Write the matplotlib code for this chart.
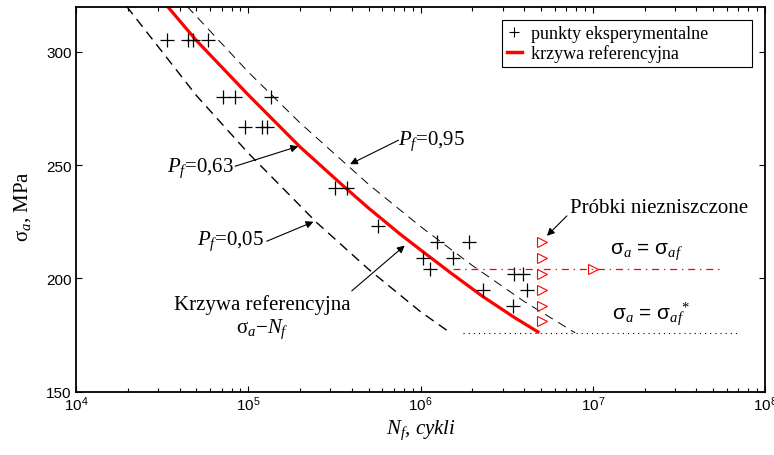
import matplotlib
matplotlib.use('Agg')
import matplotlib.pyplot as plt
from matplotlib.lines import Line2D
from matplotlib.patches import Rectangle
from matplotlib.ticker import LogLocator, FixedLocator, NullLocator

plt.rcParams['font.family'] = ['Liberation Sans', 'DejaVu Sans']
plt.rcParams['mathtext.fontset'] = 'custom'
plt.rcParams['mathtext.rm'] = 'Liberation Serif'
plt.rcParams['mathtext.it'] = 'Liberation Serif:italic'
plt.rcParams['mathtext.bf'] = 'Liberation Serif:bold'
plt.rcParams['lines.scale_dashes'] = False

SERIF = ['Liberation Serif', 'DejaVu Serif']

# ---------------- data ----------------
exp_N = [3.37e4, 4.44e4, 4.77e4, 5.80e4,
         7.16e4, 8.38e4, 1.355e5,
         9.57e4, 1.197e5, 1.28e5,
         3.19e5, 3.73e5,
         5.69e5,
         1.245e6, 1.91e6,
         1.03e6, 1.55e6,
         1.13e6,
         3.51e6, 3.96e6,
         2.32e6, 4.14e6,
         3.46e6]
exp_S = [305, 305, 305, 305,
         280, 280, 280,
         267, 267, 267,
         240, 240,
         223,
         216, 216,
         209, 209,
         204,
         202, 202,
         195, 195,
         188]

ref_N = [3.4e4, 5e4, 1e5, 2e5, 3.6e5, 5e5, 7.6e5, 1e6, 1.5e6, 2.3e6, 3.5e6, 4.9e6]
ref_S = [320, 305, 281, 258, 240.5, 231, 219.6, 212.6, 202.4, 192, 182.8, 176]

p05_N = [1.97e4, 5e4, 1e5, 2.5e5, 5e5, 1e6, 1.49e6]
p05_S = [320, 280.7, 255.3, 224.6, 204.0, 185.3, 176]

p95_N = [4.42e4, 1e5, 2e5, 5e5, 1e6, 2e6, 4e6, 7.9e6]
p95_S = [320, 291.1, 268.6, 241.5, 222.9, 205.7, 189.8, 176]

runout_N = [5.05e6, 5.05e6, 5.05e6, 5.05e6, 5.05e6, 5.05e6]
runout_S = [216, 209, 202, 195, 188, 181]

saf_N = [1.55e6, 5.7e7]
saf_S = [204, 204]
saf_marker_N = [1.0e7]
saf_marker_S = [204]

safstar_N = [1.77e6, 7.0e7]
safstar_S = [176, 176]

x_lim = (1e4, 1e8)
y_lim = (150, 320)
y_ticks = [150, 200, 250, 300]

legend_labels = ['punkty eksperymentalne', 'krzywa referencyjna']

# ---------------- figure ----------------
fig = plt.figure(figsize=(7.74, 4.56), dpi=100)
ax = fig.add_axes([76/774, 1 - 392.7/456, 689/774, 385.2/456])

ax.plot(p05_N, p05_S, color='k', lw=1.0, dashes=(7, 4.5))
ax.plot(p95_N, p95_S, color='k', lw=0.7, dashes=(6.5, 4.5))
ax.plot(ref_N, ref_S, color='red', lw=2.3, solid_capstyle='butt')
ax.plot(exp_N, exp_S, ls='none', marker='+', ms=10, mew=0.9, color='k')
ax.plot(saf_N, saf_S, color='red', lw=0.9, ls=(0, (5, 3.5, 1, 3.5)))
ax.plot(saf_marker_N, saf_marker_S, ls='none', marker='>', ms=7, mfc='none', mec='red', mew=0.8)
ax.plot(runout_N, runout_S, ls='none', marker='>', ms=7, mfc='none', mec='red', mew=0.8)
ax.plot(safstar_N, safstar_S, color='k', lw=0.8, ls=(0, (0.8, 2.9)))

ax.set_xscale('log')
ax.set_xlim(*x_lim)
ax.set_ylim(*y_lim)
ax.yaxis.set_major_locator(FixedLocator(y_ticks))
ax.yaxis.set_minor_locator(NullLocator())
ax.xaxis.set_major_locator(LogLocator(base=10, numticks=10))
ax.xaxis.set_minor_locator(LogLocator(base=10, subs=range(2, 10), numticks=100))

for s in ax.spines.values():
    s.set_linewidth(1.3)
ax.tick_params(which='both', direction='in', top=True, right=True, width=0.8)
ax.tick_params(which='major', length=4.5, labelsize=11, pad=3)
ax.tick_params(which='minor', length=3)
ax.tick_params(axis='x', which='major', pad=2)

ax.set_ylabel('σ$_a$, MPa', family=SERIF, fontsize=15)
ax.yaxis.set_label_coords(-0.063, 0.482)
ax.set_xlabel('$N_f$, cykli', family=SERIF, fontsize=15, style='italic')
ax.xaxis.set_label_coords(0.5, -0.068)

# annotations
arrow_kw = dict(arrowstyle='-|>', color='k', lw=0.8, mutation_scale=11,
                shrinkA=0, shrinkB=0)
ax.text(3.37e4, 247.4, '$P_f$=0,63', family=SERIF, fontsize=15, ha='left', va='baseline')
ax.annotate('', xy=(1.95e5, 258.3), xytext=(8.38e4, 249.5), arrowprops=arrow_kw)

ax.text(7.45e5, 259.2, '$P_f$=0,95', family=SERIF, fontsize=15, ha='left', va='baseline')
ax.annotate('', xy=(3.90e5, 250.4), xytext=(7.45e5, 261.0), arrowprops=arrow_kw)

ax.text(5.02e4, 215.1, '$P_f$=0,05', family=SERIF, fontsize=15, ha='left', va='baseline')
ax.annotate('', xy=(2.39e5, 225.0), xytext=(1.28e5, 216.4), arrowprops=arrow_kw)

ax.text(1.21e5, 186.5, 'Krzywa referencyjna', family=SERIF, fontsize=15, ha='center', va='baseline')
ax.text(1.21e5, 176.3, 'σ$_a$−$N_f$', family=SERIF, fontsize=15, ha='center', va='baseline')
ax.annotate('', xy=(8.1e5, 214.5), xytext=(3.99e5, 194.5), arrowprops=arrow_kw)

ax.text(7.33e6, 229.1, 'Próbki niezniszczone', family=SERIF, fontsize=15, ha='left', va='baseline')
ax.annotate('', xy=(5.42e6, 218.8), xytext=(7.08e6, 227.6), arrowprops=arrow_kw)

ax.text(1.26e7, 211.4, 'σ$_a$ = σ$_{af}$', fontsize=15, ha='left', va='baseline')
ax.text(1.29e7, 182.8, 'σ$_a$ = σ$_{af}$$^{*}$', fontsize=15, ha='left', va='baseline')

# legend (box drawn separately to match the wide reference frame)
leg_x0, leg_x1, leg_y0, leg_y1 = 0.6179, 0.9816, 0.8422, 0.9657
ax.add_patch(Rectangle((leg_x0, leg_y0), leg_x1 - leg_x0, leg_y1 - leg_y0,
                       transform=ax.transAxes, facecolor='white', edgecolor='k',
                       lw=0.8, zorder=4))
handles = [Line2D([], [], ls='none', marker='+', ms=7, mew=0.8, color='k'),
           Line2D([], [], color='red', lw=2.5)]
leg = ax.legend(handles, legend_labels, loc='upper left', bbox_to_anchor=(leg_x0, leg_y1),
                prop={'family': SERIF, 'size': 13}, frameon=False,
                borderpad=0.3, labelspacing=0.12,
                handlelength=0.8, handletextpad=0.5, borderaxespad=0)
leg.set_zorder(5)

fig.savefig('out.png', dpi=100)
